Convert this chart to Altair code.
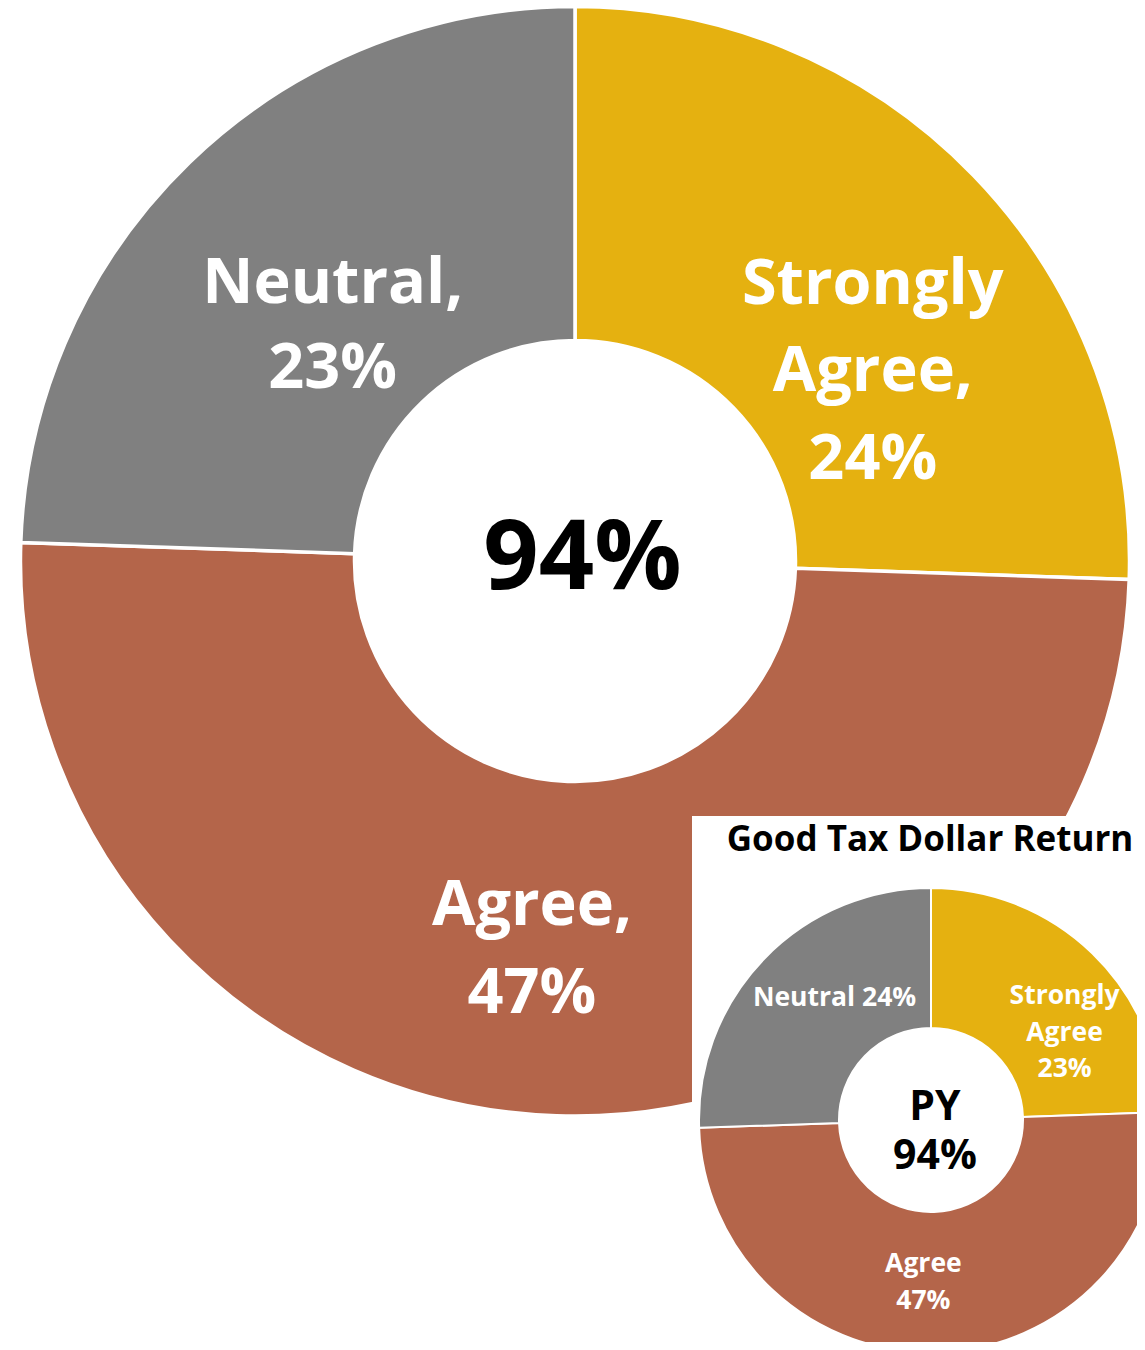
import math
import altair as alt
import pandas as pd

# ---------------- data ----------------
categories = ["Strongly Agree", "Agree", "Neutral"]
current_values = [24, 47, 23]
py_values = [23, 47, 24]
slice_colors = ["#E5B110", "#B4654A", "#808080"]
inset_title = "Good Tax Dollar Return"

main_labels = [
    f"Strongly\nAgree,\n{current_values[0]}%",
    f"Agree,\n{current_values[1]}%",
    f"Neutral,\n{current_values[2]}%",
]
py_labels = [
    f"Strongly\nAgree\n{py_values[0]}%",
    f"Agree\n{py_values[1]}%",
    f"Neutral {py_values[2]}%",
]
center_text = f"{sum(current_values)}%"
py_center_text = f"PY\n{sum(py_values)}%"

cur_df = pd.DataFrame({"category": categories, "value": current_values,
                       "order": [0, 1, 2], "label": main_labels})
py_df = pd.DataFrame({"category": categories, "value": py_values,
                      "order": [0, 1, 2], "label": py_labels})

W, H = 1129, 1334
FONT = "Open Sans"
color_scale = alt.Scale(domain=categories, range=slice_colors)

# geometry (chart coordinates)
MAIN_C = (567, 553)
PY_C = (923, 1112)


def donut(df, c, r_in, r_out, sw):
    return alt.Chart(df).mark_arc(
        innerRadius=r_in, outerRadius=r_out, stroke="white", strokeWidth=sw
    ).encode(
        theta=alt.Theta("value:Q", stack=True),
        order=alt.Order("order:Q", sort="ascending"),
        color=alt.Color("category:N", scale=color_scale, legend=None),
        x=alt.value(c[0]),
        y=alt.value(c[1]),
    )


def slice_label(df, cat, c, r, dx, dy, size, lh):
    return alt.Chart(df).transform_joinaggregate(
        total="sum(value)"
    ).transform_window(
        cum="sum(value)", sort=[alt.SortField("order", order="ascending")], frame=[None, 0]
    ).transform_calculate(
        mid="(datum.cum - datum.value / 2) / datum.total"
    ).transform_filter(
        alt.datum.category == cat
    ).mark_text(
        radius=r, dx=dx, dy=dy, fontSize=size, lineHeight=lh, font=FONT,
        fontWeight="bold", color="white", align="center", baseline="alphabetic",
        lineBreak="\n",
    ).encode(
        theta=alt.Theta("mid:Q", scale=alt.Scale(domain=[0, 1], range=[0, 2 * math.pi])),
        text="label:N",
        x=alt.value(c[0]),
        y=alt.value(c[1]),
    )


def free_text(txt, x, y, size, lh=None, color="black"):
    kw = dict(fontSize=size, font=FONT, fontWeight="bold", color=color,
              align="center", baseline="alphabetic", lineBreak="\n")
    if lh is not None:
        kw["lineHeight"] = lh
    return alt.Chart(pd.DataFrame({"t": [txt]})).mark_text(**kw).encode(
        text="t:N", x=alt.value(x), y=alt.value(y)
    )


main_donut = donut(cur_df, MAIN_C, 220.5, 554.5, 3.5)
main_lbls = [
    slice_label(cur_df, "Strongly Agree", MAIN_C, 360, 39, -7, 63, 87.5),
    slice_label(cur_df, "Agree", MAIN_C, 360, -31, 4, 63, 88),
    slice_label(cur_df, "Neutral", MAIN_C, 360, 8, 1, 63, 85),
]
main_center = free_text(center_text, MAIN_C[0] + 7.5, MAIN_C[1] + 28, 97)

inset_bg = alt.Chart(pd.DataFrame({"a": [0]})).mark_rect(color="white").encode(
    x=alt.value(684), x2=alt.value(W), y=alt.value(808), y2=alt.value(H)
)
inset_title_t = free_text(inset_title, 922, 843, 35)
py_donut = donut(py_df, PY_C, 92, 232, 2)
py_lbls = [
    slice_label(py_df, "Strongly Agree", PY_C, 162, 21, 0.5, 26.5, 36.5),
    slice_label(py_df, "Agree", PY_C, 162, -13, -10, 26.5, 37),
    slice_label(py_df, "Neutral", PY_C, 162, 20, -1.5, 26.5, 36),
]
py_center = free_text(py_center_text, PY_C[0] + 4, PY_C[1], 41, lh=49)

chart = alt.layer(
    main_donut, *main_lbls, main_center,
    inset_bg, inset_title_t, py_donut, *py_lbls, py_center,
).resolve_scale(
    theta="independent"
).properties(
    width=W, height=H, padding=0, autosize=alt.AutoSizeParams(type="none"),
    background="white",
).configure_view(stroke=None)

chart.save("out.html", embed_options={"renderer": "svg", "actions": False})
